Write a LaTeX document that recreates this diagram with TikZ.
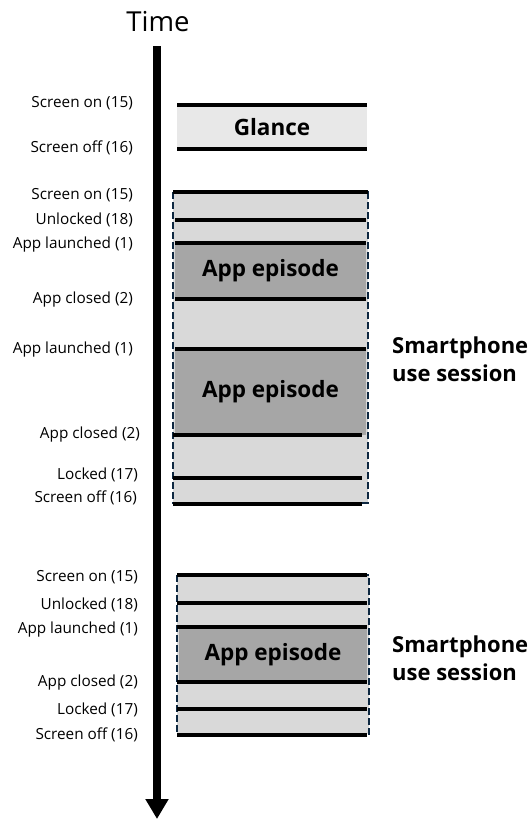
\documentclass[tikz,border=0pt]{standalone}
\usepackage{fontspec}
\setmainfont{Open Sans}
\usetikzlibrary{arrows.meta}
\definecolor{sessionborder}{HTML}{0E2841}
\definecolor{glancefill}{HTML}{E8E8E8}
\definecolor{sessionfill}{HTML}{D9D9D9}
\definecolor{episodefill}{HTML}{A6A6A6}
\begin{document}
\begin{tikzpicture}[x=1pt,y=-1pt,
  evt/.style={anchor=east, inner sep=0pt, font=\fontsize{15.3}{18}\selectfont},
  bar/.style={line width=4pt, black},
  boxlabel/.style={font=\bfseries\fontsize{22.5}{26}\selectfont},
  block/.style={inner sep=0pt, outer sep=0pt, draw=none},
  sessionframe/.style={block, fill=sessionfill},
  frameline/.style={draw=sessionborder, line width=2.6pt, dash pattern=on 7pt off 3pt},
  episode/.style={block, fill=episodefill, boxlabel},
  sidelabel/.style={anchor=west, align=left, inner sep=0pt,
    font=\bfseries\fontsize{22}{28}\selectfont}]
\useasboundingbox (0,0) rectangle (530,820);

% time axis
\node[font=\fontsize{27.5}{30}\selectfont] (time) at (158,22) {Time};
\coordinate (axistop) at (157,46);
\coordinate (axisend) at (157,819);
\draw[line width=8pt, -{Triangle[width=22pt,length=20pt]}] (axistop) -- (axisend);

% glance
\node[block, fill=glancefill, minimum width=190pt, minimum height=44pt, boxlabel]
  (glance) at (272,127) {Glance};
\draw[bar] (glance.north west) -- (glance.north east);
\draw[bar] (glance.south west) -- (glance.south east);
\node[evt] (g1) at (133,103) {Screen on (15)};
\node[evt] (g2) at (133,148) {Screen off (16)};

% first session
\node[sessionframe, minimum width=195pt, minimum height=311pt] (s1) at (270.5,347.5) {};
\node[episode, minimum width=191pt, minimum height=56pt] (e1) at (270.5,271) {App episode};
\node[episode, minimum width=191pt, minimum height=86pt] (e2) at (270.5,392) {App episode};
\draw[frameline] (s1.north west) rectangle (s1.south east);
\draw[bar] (s1.north west) -- (s1.north east);
\draw[bar] ([xshift=2pt]s1.west |- 0,220) -- ([xshift=-2pt]s1.east |- 0,220);
\draw[bar] ([xshift=2pt]s1.west |- e1.north) -- ([xshift=-2pt]s1.east |- e1.north);
\draw[bar] ([xshift=2pt]s1.west |- e1.south) -- ([xshift=-2pt]s1.east |- e1.south);
\draw[bar] ([xshift=2pt]s1.west |- e2.north) -- ([xshift=-2pt]s1.east |- e2.north);
\draw[bar] (s1.west |- e2.south) -- ([xshift=-6pt]s1.east |- e2.south);
\draw[bar] (s1.west |- 0,478) -- ([xshift=-6pt]s1.east |- 0,478);
\draw[bar] ([yshift=-1pt]s1.south west) -- ([xshift=-6pt,yshift=-1pt]s1.south east);

\node[evt] (a1) at (133,195) {Screen on (15)};
\node[evt] (a2) at (133,220) {Unlocked (18)};
\node[evt] (a3) at (133,245) {App launched (1)};
\node[evt] (a4) at (133,300) {App closed (2)};
\node[evt] (a5) at (133,350) {App launched (1)};
\node[evt] (a6) at (140,435) {App closed (2)};
\node[evt] (a7) at (138,475) {Locked (17)};
\node[evt] (a8) at (137,498) {Screen off (16)};

\node[sidelabel] (l1) at (392,359) {Smartphone\\use session};

% second session
\node[sessionframe, minimum width=192pt, minimum height=159pt] (s2) at (273,654.5) {};
\node[episode, minimum width=188pt, minimum height=55pt] (e3) at (273,654.5) {App episode};
\draw[frameline] (s2.north west) rectangle (s2.south east);
\draw[bar] (s2.north west) -- ([xshift=-2pt]s2.north east);
\draw[bar] (s2.west |- 0,603) -- ([xshift=-2pt]s2.east |- 0,603);
\draw[bar] (s2.west |- e3.north) -- ([xshift=-2pt]s2.east |- e3.north);
\draw[bar] (s2.west |- e3.south) -- ([xshift=-2pt]s2.east |- e3.south);
\draw[bar] (s2.west |- 0,709) -- ([xshift=-2pt]s2.east |- 0,709);
\draw[bar] ([yshift=-1pt]s2.south west) -- ([xshift=-2pt,yshift=-1pt]s2.south east);

\node[evt] (b1) at (138,577) {Screen on (15)};
\node[evt] (b2) at (138,605) {Unlocked (18)};
\node[evt] (b3) at (138,630) {App launched (1)};
\node[evt] (b4) at (138,683) {App closed (2)};
\node[evt] (b5) at (138,710) {Locked (17)};
\node[evt] (b6) at (138,735) {Screen off (16)};

\node[sidelabel] (l2) at (392,658) {Smartphone\\use session};
\end{tikzpicture}
\end{document}
